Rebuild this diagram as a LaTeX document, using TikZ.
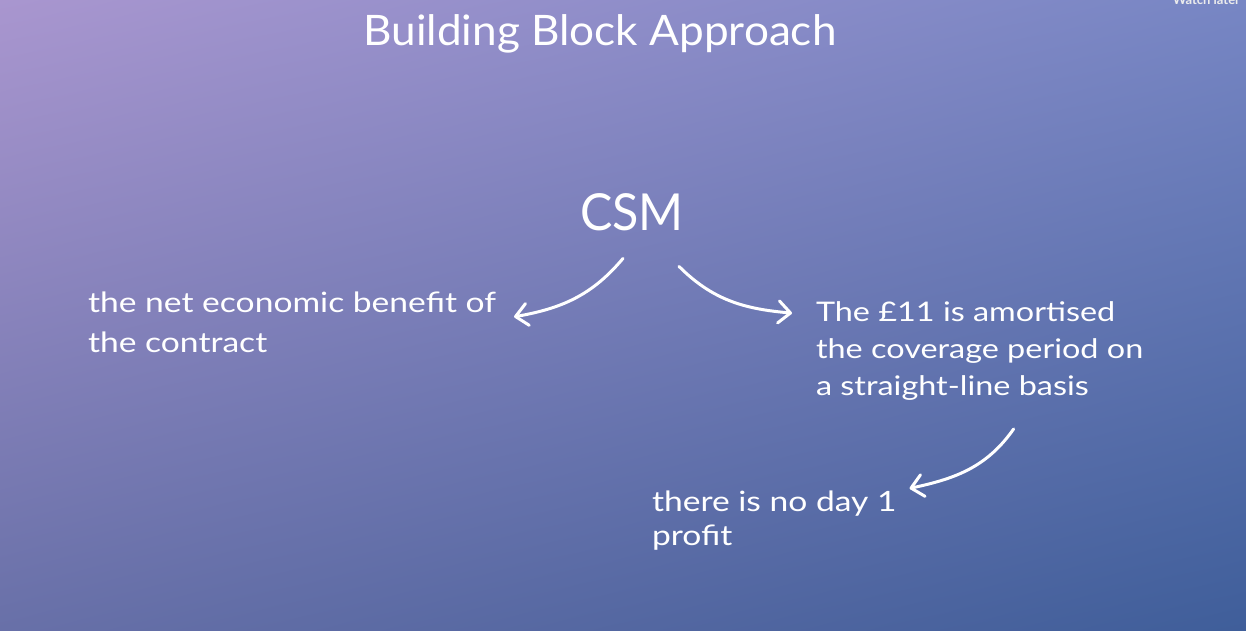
\documentclass[tikz,border=0pt]{standalone}
\usepackage{fontspec}
\setmainfont{Lato}
\newfontfamily\handfont[FakeStretch=1.2]{Lato}
\newfontfamily\headfont[FakeStretch=1.05]{Lato}
\newfontfamily\csmfont[FakeStretch=0.95]{Lato}
\usetikzlibrary{arrows.meta, shadings}

\definecolor{bgTL}{HTML}{A996CF}
\definecolor{bgTR}{HTML}{7786C4}
\definecolor{bgBL}{HTML}{6870A8}
\definecolor{bgBR}{HTML}{3F5E9A}

\begin{document}
\begin{tikzpicture}[x=1pt, y=1pt,
    every node/.style={text=white, inner sep=0pt, outer sep=0pt},
    note/.style={align=left, anchor=base west, font=\handfont\fontsize{28}{40}\selectfont},
    sketch/.style={draw=white, line width=3pt, line cap=round,
        -{Straight Barb[length=12pt, width=22pt, round]}}]
    % background
    \shade[upper left=bgTL, upper right=bgTR, lower left=bgBL, lower right=bgBR]
        (0,0) rectangle (1246,-630);
    \useasboundingbox (0,0) rectangle (1246,-630);

    \node[anchor=base east, font=\bfseries\fontsize{13}{13}\selectfont, text=white!85!gray]
        (watch) at (1240,-4) {Watch later};
    \node[anchor=base, font=\headfont\fontsize{42}{42}\selectfont] (title) at (600,-45) {Building Block Approach};
    \node[anchor=base, font=\csmfont\fontsize{51}{51}\selectfont] (csm) at (632,-230) {CSM};

    % anchor base = last line
    \node[note] (benefit) at (88,-352) {the net economic benefit of\\the contract};
    \node[note, font=\handfont\fontsize{27}{37}\selectfont] (amort) at (816,-395)
        {The £11 is amortised\\the coverage period on\\a straight-line basis};
    \node[note, font=\handfont\fontsize{28}{34}\selectfont] (dayone) at (652,-545) {there is no day 1\\profit};

    \draw[sketch] ([xshift=-9pt, yshift=-28pt]csm.south) to[out=-130, in=10] ([xshift=18pt, yshift=5pt]benefit.east);
    \draw[sketch] ([xshift=47pt, yshift=-36pt]csm.south) to[out=-45, in=175] ([xshift=-24pt, yshift=-12pt]amort.north west);
    \draw[sketch] ([xshift=34pt, yshift=-29pt]amort.south) to[out=-125, in=12] ([xshift=13pt, yshift=2pt]dayone.north east);
\end{tikzpicture}
\end{document}
